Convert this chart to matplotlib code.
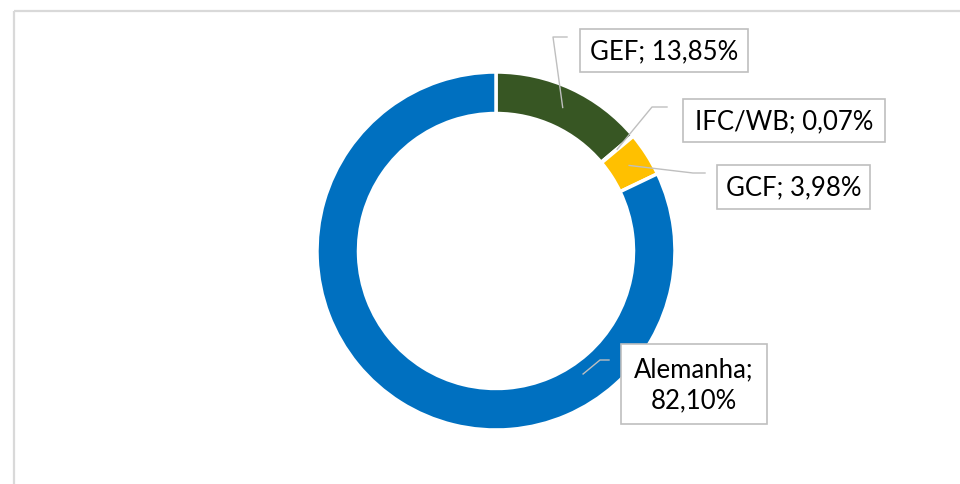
import matplotlib.pyplot as plt
from matplotlib.patches import Rectangle
import numpy as np

# chart values
names = ['GEF', 'IFC/WB', 'GCF', 'Alemanha']
shares = [13.85, 0.07, 3.98, 82.10]
colors = ['#375623', '#4472C4', '#FFC000', '#0070C0']
label_txt = ['GEF; 13,85%', 'IFC/WB; 0,07%', 'GCF; 3,98%', 'Alemanha;\n82,10%']

W, H = 960, 485

def py(y):
	# pixel row from the top -> data y
	return H - y

fig = plt.figure(figsize=(W / 100, H / 100), dpi=100)
ax = fig.add_axes([0, 0, 1, 1])

cx, cy = 496, 252
R = 179
ring = 41.5

wedges, _ = ax.pie(shares, colors=colors, startangle=90, counterclock=False,
	center=(cx, py(cy)), radius=R,
	wedgeprops=dict(width=ring, edgecolor='white', linewidth=2.5))

ax.set_xlim(0, W)
ax.set_ylim(0, H)
ax.set_aspect('equal')
ax.axis('off')

# outer chart frame (only top and left visible)
ax.plot([14, W], [py(12), py(12)], color='#D9D9D9', lw=1.6, solid_capstyle='butt')
ax.plot([14, 14], [py(12), 0], color='#D9D9D9', lw=1.6, solid_capstyle='butt')

# label boxes: left, top, right, bottom (pixels)
boxes = [(580, 30, 748, 73), (683, 100, 885, 143), (717, 166, 870, 210), (621, 345, 767, 425)]
# elbow points of leader lines
elbows = [[(553, 38), (567, 38)], [(652, 108), (667, 108)], [(693, 174), (705, 174)], [(600, 361), (609, 361)]]

mid_r = R - ring / 2
for i, w in enumerate(wedges):
	ang = np.deg2rad((w.theta1 + w.theta2) / 2)
	if names[i] == 'Alemanha':
		ang = np.deg2rad(-54.7)
		r = 150.7
	else:
		r = mid_r
	x0 = cx + r * np.cos(ang)
	y0 = py(cy) + r * np.sin(ang)
	xs = [x0] + [p[0] for p in elbows[i]]
	ys = [y0] + [py(p[1]) for p in elbows[i]]
	ax.plot(xs, ys, color='#BFBFBF', lw=1.0)

	l, t, r2, b = boxes[i]
	ax.add_patch(Rectangle((l, py(b)), r2 - l, b - t, facecolor='white', edgecolor='#BFBFBF', lw=1.2))
	ax.text((l + r2) / 2, py((t + b) / 2), label_txt[i], ha='center', va='center',
		fontsize=18.5, family='Lato', color='black', linespacing=1.3)

fig.savefig('out.png', dpi=100, facecolor='white')
